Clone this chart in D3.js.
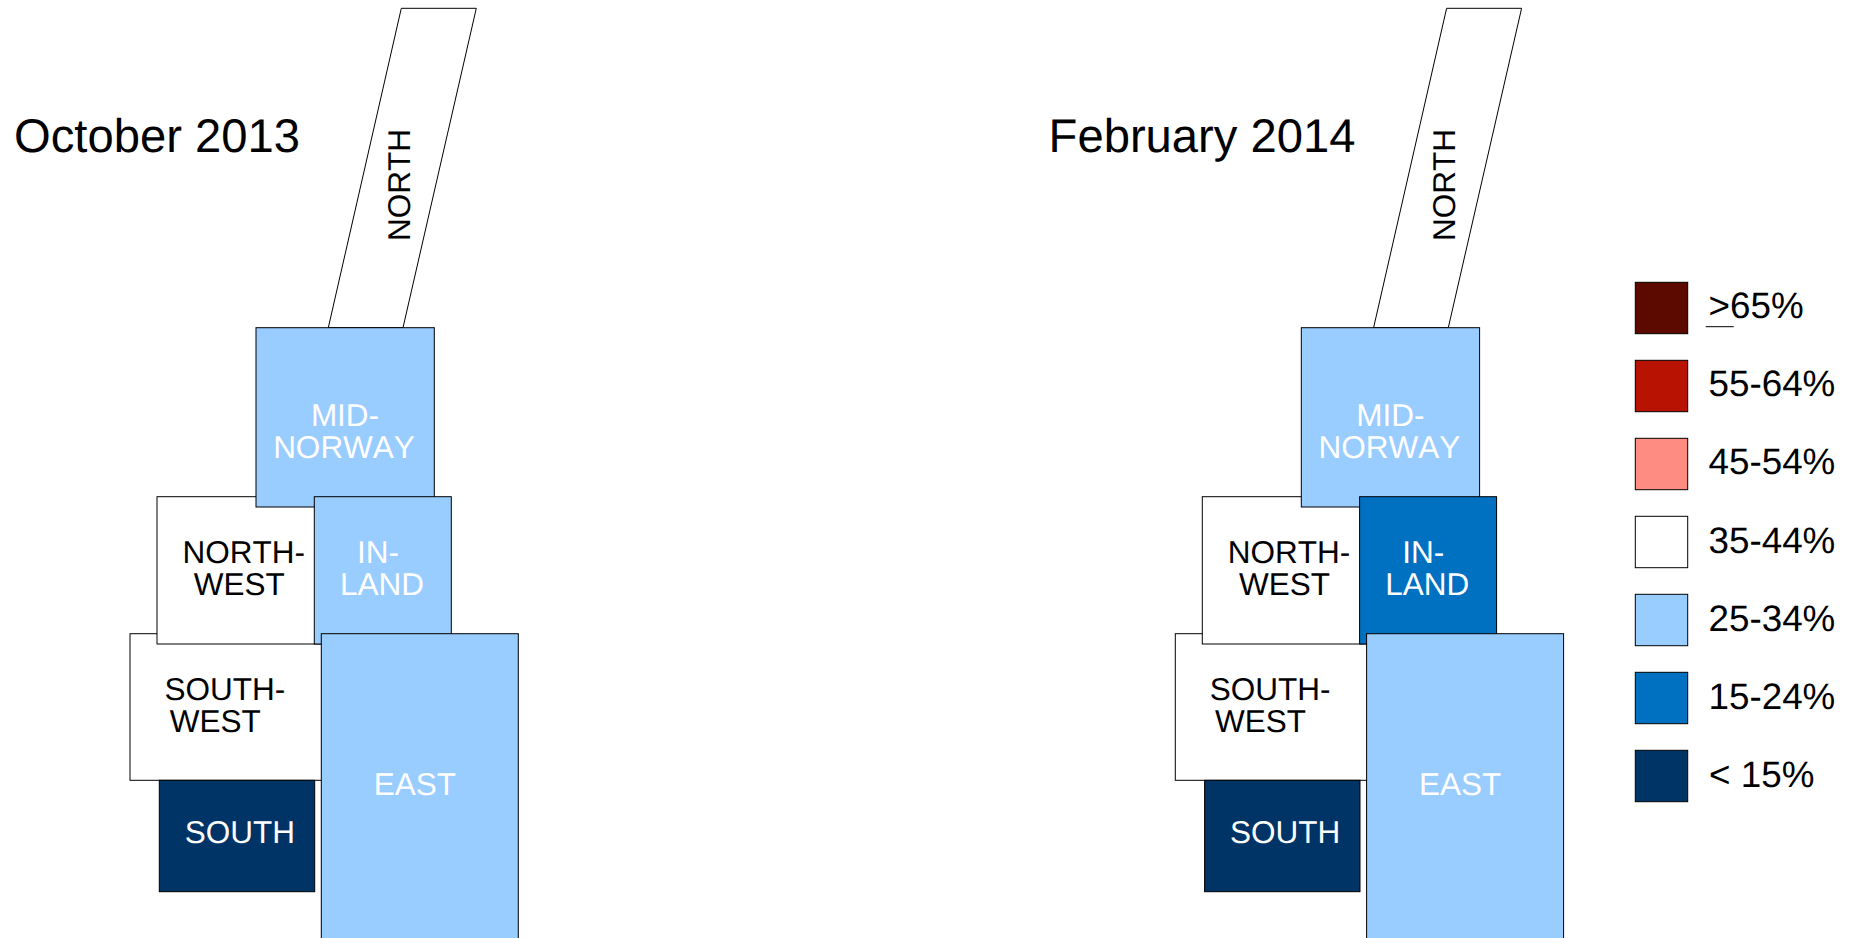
<!DOCTYPE html>
<html>
<head>
<meta charset="utf-8">
<title>Norway regions</title>
<script src="https://cdn.jsdelivr.net/npm/d3@7"></script>
<style>
html,body{margin:0;padding:0;background:#fff;overflow:hidden}
svg{display:block}
text{font-family:"Liberation Sans",Arial,sans-serif;font-kerning:none;text-rendering:geometricPrecision}
</style>
</head>
<body>
<div id="chart"></div>
<script>
// ---- data ----
const periods = ["October 2013", "February 2014"];
const regions = ["SOUTH-WEST", "SOUTH", "NORTH-WEST", "NORTH", "MID-NORWAY", "IN-LAND", "EAST"];
const october2013 = ["35-44%", "< 15%", "35-44%", "35-44%", "25-34%", "25-34%", "25-34%"];
const february2014 = ["35-44%", "< 15%", "35-44%", "35-44%", "25-34%", "15-24%", "25-34%"];
const binLabels = [">65%", "55-64%", "45-54%", "35-44%", "25-34%", "15-24%", "< 15%"];
const binColors = ["#5c0a00", "#b81202", "#ff8c82", "#ffffff", "#99ccff", "#0070c0", "#003366"];
const binText = ["#fff", "#fff", "#000", "#000", "#fff", "#fff", "#fff"];

// ---- layout of the tile map (not data) ----
const tileLayout = {
  "SOUTH-WEST": {x0:130, x1:335, y0:633.7, y1:780.3, lines:[["SOUTH-",224.8,700],["WEST",215.3,731.7]]},
  "SOUTH":      {x0:159.3, x1:314.7, y0:780.3, y1:891.7, lines:[["SOUTH",239.8,842.7]]},
  "NORTH-WEST": {x0:157, x1:325, y0:496.7, y1:644, lines:[["NORTH-",243.7,563],["WEST",239.3,595]]},
  "NORTH":      {poly:[[401.3,8.3],[476.3,8.3],[403,327.7],[328.3,327.7]], rot:["NORTH",410,185]},
  "MID-NORWAY": {x0:256, x1:434.3, y0:327.7, y1:507, lines:[["MID-",345,425.7],["NORWAY",344,458]]},
  "IN-LAND":    {x0:314.3, x1:451.3, y0:496.7, y1:644, lines:[["IN-",378,562.7],["LAND",382,595]]},
  "EAST":       {x0:321.3, x1:518.3, y0:633.7, y1:950, lines:[["EAST",414.8,794.7]]}
};

const W = 1854, H = 938;
const fill = d3.scaleOrdinal().domain(binLabels).range(binColors);
const ink = d3.scaleOrdinal().domain(binLabels).range(binText);
const panelX = d3.scalePoint().domain(periods).range([0, 1045.3]);
const titleX = d3.scaleOrdinal().domain(periods).range([14, 1048.6]);
const legendY = d3.scalePoint().domain(binLabels).range([282.3, 750.3]);
const legendBase = d3.scaleOrdinal().domain(binLabels).range([318, 396, 474, 553, 631, 709, 787]);
const legendTextX = d3.scaleOrdinal().domain(binLabels).range([1708.5, 1708.5, 1708.5, 1708.5, 1708.5, 1708.5, 1709]);

const svg = d3.select("#chart").append("svg").attr("width", W).attr("height", H);
const series = [october2013, february2014];

periods.forEach((p, i) => {
  const g = svg.append("g").attr("transform", `translate(${panelX(p)},0)`);
  const rows = regions.map((r, k) => ({region: r, bin: series[i][k], t: tileLayout[r]}));

  const marks = g.selectAll("g.tile").data(rows).join("g").attr("class", "tile");
  marks.each(function(d) {
    const m = d3.select(this);
    const shape = d.t.poly
      ? m.append("polygon").attr("points", d.t.poly.map(q => q.join(",")).join(" "))
      : m.append("rect").attr("x", d.t.x0).attr("y", d.t.y0)
          .attr("width", d.t.x1 - d.t.x0).attr("height", d.t.y1 - d.t.y0);
    shape.attr("fill", fill(d.bin)).attr("stroke", "#000").attr("stroke-width", 1);
    (d.t.lines || []).forEach(l => {
      m.append("text").text(l[0]).attr("x", l[1]).attr("y", l[2])
        .attr("text-anchor", "middle").attr("font-size", 31.5).attr("fill", ink(d.bin));
    });
    if (d.t.rot) {
      m.append("text").text(d.t.rot[0])
        .attr("transform", `translate(${d.t.rot[1]},${d.t.rot[2]}) rotate(-90)`)
        .attr("text-anchor", "middle").attr("font-size", 31.5).attr("fill", ink(d.bin));
    }
  });

  svg.append("text").text(p).attr("x", titleX(p)).attr("y", 152)
    .attr("font-size", 47.2).attr("fill", "#000");
});

// legend
const lg = svg.append("g");
lg.selectAll("rect").data(binLabels).join("rect")
  .attr("x", 1635.3).attr("y", d => legendY(d)).attr("width", 52.4).attr("height", 51.4)
  .attr("fill", d => fill(d)).attr("stroke", "#000").attr("stroke-width", 1);
lg.selectAll("text").data(binLabels).join("text")
  .text(d => d).attr("x", d => legendTextX(d)).attr("y", d => legendBase(d))
  .attr("font-size", 36.8).attr("fill", "#000");
// underline turning ">" into "≥"
lg.append("line").attr("x1", 1705.7).attr("x2", 1733.7).attr("y1", 326.7).attr("y2", 326.7)
  .attr("stroke", "#000").attr("stroke-width", 1);
</script>
</body>
</html>
